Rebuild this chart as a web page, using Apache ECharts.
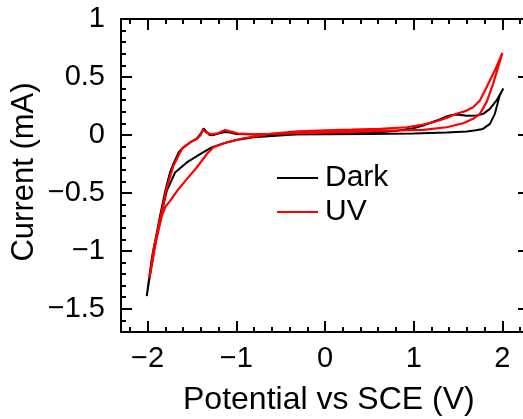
<!DOCTYPE html>
<html>
<head>
<meta charset="utf-8">
<script src="https://cdn.jsdelivr.net/npm/echarts@6/dist/echarts.min.js"></script>
<style>
  html, body { margin: 0; padding: 0; background: #fff; }
  #chart { width: 523px; height: 419px; }
</style>
</head>
<body>
<div id="chart"></div>
<script>
// Cyclic voltammograms, potential (V vs SCE) against current (mA)
const darkPotential = [
  -2.01, -1.95, -1.89, -1.86, -1.80, -1.75, -1.71, -1.65, -1.60, -1.52, -1.45, -1.40,
  -1.37, -1.34, -1.30, -1.26, -1.20, -1.13, -1.07, -1.00, -0.80, -0.50, 0.00, 0.50,
  1.00, 1.37, 1.60, 1.70, 1.78, 1.86, 1.915, 1.97, 2.01,
  1.934, 1.859, 1.784, 1.709, 1.597, 1.484, 1.42, 1.371, 1.259, 1.108, 0.995, 0.808,
  0.62, 0.30, 0.00, -0.43, -0.808, -0.995, -1.146, -1.277, -1.408, -1.558, -1.69,
  -1.784, -1.86, -1.93, -2.01
];
const darkCurrent = [
  -1.39, -1.05, -0.82, -0.70, -0.48, -0.33, -0.25, -0.15, -0.11, -0.065, -0.035, 0.01,
  0.057, 0.03, 0.0, -0.002, 0.012, 0.025, 0.02, 0.008, 0.003, 0.003, 0.005, 0.008,
  0.012, 0.02, 0.03, 0.04, 0.052, 0.095, 0.182, 0.34, 0.40,
  0.297, 0.225, 0.182, 0.167, 0.165, 0.176, 0.17, 0.159, 0.124, 0.081, 0.057, 0.037,
  0.025, 0.018, 0.014, 0.0, -0.021, -0.043, -0.073, -0.107, -0.165, -0.237, -0.324,
  -0.483, -0.73, -1.0, -1.39
];
const uvPotential = [
  -1.98, -1.93, -1.86, -1.784, -1.709, -1.614, -1.521, -1.446, -1.40, -1.378, -1.326,
  -1.277, -1.202, -1.127, -1.07, -0.977, -0.80, -0.50, 0.00, 0.50, 0.80, 1.108, 1.371,
  1.558, 1.671, 1.746, 1.822, 1.896, 1.953, 2.00,
  1.915, 1.822, 1.746, 1.671, 1.597, 1.484, 1.371, 1.259, 1.108, 0.921, 0.62, 0.30,
  0.00, -0.30, -0.60, -0.732, -0.921, -1.108, -1.259, -1.333, -1.446, -1.558, -1.653,
  -1.746, -1.80, -1.84, -1.90, -1.98
];
const uvCurrent = [
  -1.24, -0.98, -0.73, -0.454, -0.266, -0.121, -0.064, -0.035, 0.0, 0.043, 0.017,
  0.005, 0.017, 0.043, 0.031, 0.012, 0.006, 0.01, 0.02, 0.03, 0.038, 0.043, 0.066,
  0.101, 0.139, 0.182, 0.283, 0.442, 0.586, 0.707,
  0.557, 0.412, 0.297, 0.239, 0.21, 0.182, 0.147, 0.118, 0.089, 0.066, 0.052, 0.045,
  0.04, 0.03, 0.012, -0.006, -0.029, -0.064, -0.107, -0.165, -0.281, -0.381, -0.468,
  -0.569, -0.62, -0.70, -0.90, -1.24
];

const seriesNames = ['Dark', 'UV'];
const xTickValues = [-2, -1, 0, 1, 2];
const yTickValues = [-1.5, -1, -0.5, 0, 0.5, 1];
const xRange = [-2.3, 2.3];
const yRange = [-1.7, 1];

const pairs = (xs, ys) => xs.map((x, i) => [x, ys[i]]);

// minor tick positions: every 0.2 V on x, every 0.1 mA on y
function steps(lo, hi, step) {
  const out = [];
  const n0 = Math.ceil(lo / step - 1e-9), n1 = Math.floor(hi / step + 1e-9);
  for (let n = n0; n <= n1; n++) out.push(+(n * step).toFixed(6));
  return out;
}
const xMinor = steps(xRange[0], xRange[1], 0.2);
const yMinor = steps(yRange[0], yRange[1], 0.1);

const FONT = '"Liberation Sans", Arial, sans-serif';
const minus = v => String(v).replace('-', '\u2212');

function axisBase(range, position, ticks, len, withLine, withLabels) {
  return {
    type: 'value',
    position: position,
    min: range[0],
    max: range[1],
    splitLine: { show: false },
    axisLine: { show: withLine, onZero: false, lineStyle: { color: '#000', width: 2 } },
    axisTick: {
      show: true, inside: true, length: len, customValues: ticks,
      lineStyle: { color: '#000', width: 2 }
    },
    axisLabel: withLabels ? {
      show: true, customValues: ticks, formatter: minus,
      color: '#000', fontSize: 29, fontFamily: FONT, margin: 12
    } : { show: false }
  };
}

const chart = echarts.init(document.getElementById('chart'), null, { renderer: 'canvas' });

const xAxes = [
  axisBase(xRange, 'bottom', xTickValues, 11, true, true),
  axisBase(xRange, 'bottom', xMinor, 5, false, false),
  axisBase(xRange, 'top', xTickValues, 11, true, false),
  axisBase(xRange, 'top', xMinor, 5, false, false)
];
const yAxes = [
  axisBase(yRange, 'left', yTickValues, 11, true, true),
  axisBase(yRange, 'left', yMinor, 5, false, false),
  axisBase(yRange, 'right', yTickValues, 11, true, false),
  axisBase(yRange, 'right', yMinor, 5, false, false)
];
yAxes[0].axisLabel.margin = 16;

chart.setOption({
  animation: false,
  backgroundColor: '#fff',
  grid: {
    left: 121, top: 19, width: 408, height: 313,
    containLabel: false, outerBoundsMode: 'none'
  },
  xAxis: xAxes,
  yAxis: yAxes,
  legend: {
    orient: 'vertical',
    left: 272,
    top: 158,
    icon: 'rect',
    itemWidth: 41,
    itemHeight: 2,
    itemGap: 4,
    data: seriesNames,
    textStyle: { fontSize: 30, fontFamily: FONT, color: '#000', padding: [0, 0, 0, 2] }
  },
  graphic: [
    {
      type: 'text',
      left: 183,
      top: 384,
      style: { text: 'Potential vs SCE (V)', fontSize: 32, fontFamily: FONT, fill: '#000' }
    },
    {
      type: 'text',
      x: 24,
      y: 172,
      rotation: Math.PI / 2,
      style: {
        text: 'Current (mA)', fontSize: 31, fontFamily: FONT, fill: '#000',
        align: 'center', verticalAlign: 'middle'
      }
    }
  ],
  series: [
    {
      name: seriesNames[0], type: 'line', xAxisIndex: 0, yAxisIndex: 0,
      symbol: 'none', smooth: false, z: 3,
      lineStyle: { color: '#000', width: 2 }, itemStyle: { color: '#000' },
      data: pairs(darkPotential, darkCurrent)
    },
    {
      name: seriesNames[1], type: 'line', xAxisIndex: 0, yAxisIndex: 0,
      symbol: 'none', smooth: false, z: 4,
      lineStyle: { color: '#ff0000', width: 2.2 }, itemStyle: { color: '#ff0000' },
      data: pairs(uvPotential, uvCurrent)
    }
  ]
});
</script>
</body>
</html>
